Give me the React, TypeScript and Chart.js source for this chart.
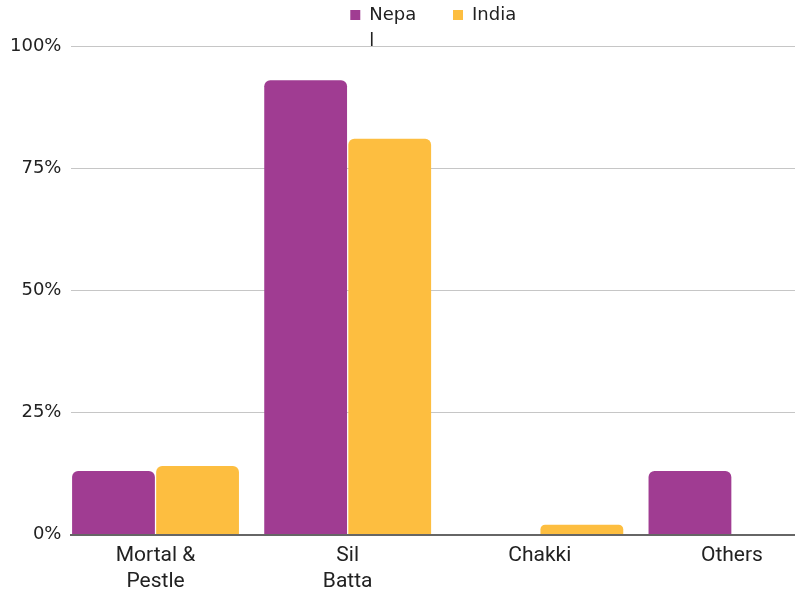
import React, { useEffect, useRef } from "react";
import { Chart, registerables } from "chart.js";

Chart.register(...registerables);

const CATEGORIES: string[][] = [["Mortal &", "Pestle"], ["Sil", "Batta"], ["Chakki"], ["Others"]];
const SERIES_NAMES = ["Nepal", "India"];
const LEGEND_LINES: string[][] = [["Nepa", "l"], ["India"]];
const NEPAL = [13, 93, 0, 13];
const INDIA = [14, 81, 2, 0];
const Y_TICKS = [0, 25, 50, 75, 100];
const COLORS = ["#A03C92", "#FDBE40"];

// let the two-line legend label draw below the legend's own box
const legendUnclip = {
  id: "legendUnclip",
  beforeDraw(chart: any) {
    if (chart.legend) chart.legend.bottom = chart.legend.top + chart.legend.height + 40;
  },
};

export default function App() {
  const ref = useRef<HTMLCanvasElement | null>(null);
  useEffect(() => {
    if (!ref.current) return;
    const series = [NEPAL, INDIA];
    const chart = new Chart(ref.current, {
      type: "bar",
      data: {
        datasets: series.map((vals, si) => ({
          label: SERIES_NAMES[si],
          data: vals.map((v, i) => ({ x: i, y: v })),
          backgroundColor: COLORS[si],
          borderWidth: 0,
          borderRadius: 6,
          borderSkipped: "start",
          barPercentage: 0.985,
          categoryPercentage: 0.875,
        })),
      },
      plugins: [legendUnclip],
      options: {
        animation: false,
        responsive: false,
        layout: { padding: { top: -20, left: 0, right: 0, bottom: -6 } },
        plugins: {
          tooltip: { enabled: false },
          title: {
            display: true,
            text: "",
            weight: 500,
            padding: 0,
            font: { size: 12, lineHeight: 1 },
          } as any,
          legend: {
            position: "top",
            fullSize: false,
            labels: {
              boxWidth: 10,
              boxHeight: 10,
              padding: 26,
              color: "#222",
              font: { family: "DejaVu Sans", size: 18, lineHeight: 1.45 },
              generateLabels: () =>
                SERIES_NAMES.map((_, si) => ({
                  text: LEGEND_LINES[si] as any,
                  fillStyle: COLORS[si],
                  strokeStyle: COLORS[si],
                  lineWidth: 0,
                  hidden: false,
                  datasetIndex: si,
                  fontColor: "#222",
                })),
            },
          },
        },
        scales: {
          x: {
            type: "linear",
            offset: false,
            min: -0.4375,
            max: 3.328,
            afterBuildTicks: (scale: any) => {
              scale.ticks = CATEGORIES.map((_, i) => ({ value: i }));
            },
            ticks: {
              autoSkip: false,
              maxRotation: 0,
              padding: 8,
              color: "#222",
              font: { family: "Roboto", size: 21, lineHeight: 1.25 },
              callback: (v: any) => CATEGORIES[Math.round(v)] ?? "",
            },
            grid: { display: false, drawTicks: false },
            border: { display: true, color: "#666666", width: 2 },
          },
          y: {
            min: 0,
            max: 100,
            afterBuildTicks: (scale: any) => {
              scale.ticks = Y_TICKS.map((v) => ({ value: v }));
            },
            ticks: {
              padding: 10,
              color: "#222",
              font: { family: "DejaVu Sans", size: 18 },
              callback: (v: any) => v + "%",
            },
            grid: { color: "#c6c6c6", lineWidth: 1, drawTicks: false },
            border: { display: false },
          },
        },
      },
    });
    return () => chart.destroy();
  }, []);
  return (
    <div style={{ position: "absolute", left: 0, top: 0, width: 795, height: 597, background: "#fff" }}>
      <canvas ref={ref} width={795} height={597} style={{ display: "block", width: 795, height: 597 }} />
    </div>
  );
}
